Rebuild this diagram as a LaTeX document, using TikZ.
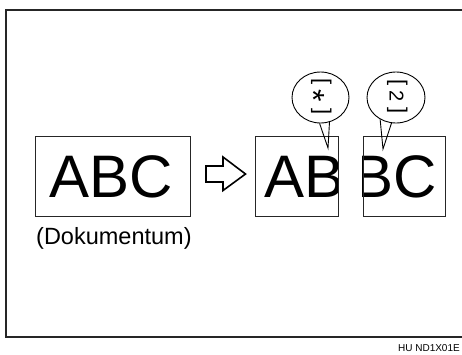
\documentclass[tikz,border=0pt]{standalone}
\usepackage{fontspec}
\setmainfont{Liberation Sans}
\usetikzlibrary{shapes.geometric}
\begin{document}
\begin{tikzpicture}[x=1pt,y=-1pt,
  docbox/.style={draw=black!85,line width=0.9pt,rectangle,inner sep=0pt,minimum height=80pt},
  bigtxt/.style={inner sep=0pt,font=\fontsize{60}{60}\selectfont},
  bubble/.style={draw,line width=0.9pt,ellipse,inner sep=0pt,minimum width=57pt,minimum height=51pt},
  brk/.style={inner sep=0pt,rotate=-90,font=\fontsize{22}{22}\selectfont},
  tail/.style={line width=0.9pt},
  frame/.style={line width=1.2pt,draw=black!85}]
\useasboundingbox (0,0) rectangle (462,354);
% outer frame
\draw[frame] (463,10) -- (6,10) -- (6,337) -- (463,337);
% original document
\node[docbox,minimum width=155pt] (orig) at (113,176) {};
\node[bigtxt,anchor=base] (origtxt) at (111,197) {ABC};
\node[inner sep=0pt,anchor=base west,font=\fontsize{23.5}{23.5}\selectfont] (doklabel) at (36,244) {(Dokumentum)};
% hollow arrow
\draw[line width=1.6pt,line join=miter] (206,166) -- (223,166) -- (223,157) -- (245.5,174) -- (223,190.5) -- (223,182) -- (206,182) -- cycle;
% split boxes
\node[docbox,minimum width=82.5pt] (left) at (296.75,176) {};
\node[docbox,minimum width=82.5pt] (right) at (404.25,176) {};
\begin{scope}
  \clip (left.south west) rectangle (left.north east);
  \node[bigtxt,anchor=base west] (lefttxt) at (264.5,197) {ABC};
\end{scope}
\begin{scope}
  \clip (right.south west) rectangle (right.north east);
  \node[bigtxt,anchor=base east] (righttxt) at (437.5,197) {ABC};
\end{scope}
\node[docbox,minimum width=82.5pt] at (left) {};
\node[docbox,minimum width=82.5pt] at (right) {};
% callouts
\node[bubble] (b1) at (320.5,97.5) {};
\node[bubble,minimum width=58pt] (b2) at (396,97.5) {};
\coordinate (t1) at (328,148);
\coordinate (t2) at (383,149);
\draw[tail] (b1.-92) -- (t1) -- (b1.-70);
\draw[tail] (b2.-126) -- (t2) -- (b2.-100);
\node[brk] (o1) at (321.3,81.5) {[};
\node[brk] (c1) at (321.3,111.5) {]};
\node[inner sep=0pt,rotate=-90,font=\fontsize{32}{32}\selectfont] (s1) at (313.5,96) {*};
\node[brk] (o2) at (397.3,82.5) {[};
\node[brk] (c2) at (397.3,110.5) {]};
\node[inner sep=0pt,rotate=-90,font=\fontsize{20}{20}\selectfont] (s2) at (396.5,96.5) {2};
% code
\node[inner sep=0pt,anchor=base east,font=\fontsize{10}{10}\selectfont] (code) at (460,351) {HU ND1X01E};
\end{tikzpicture}
\end{document}
